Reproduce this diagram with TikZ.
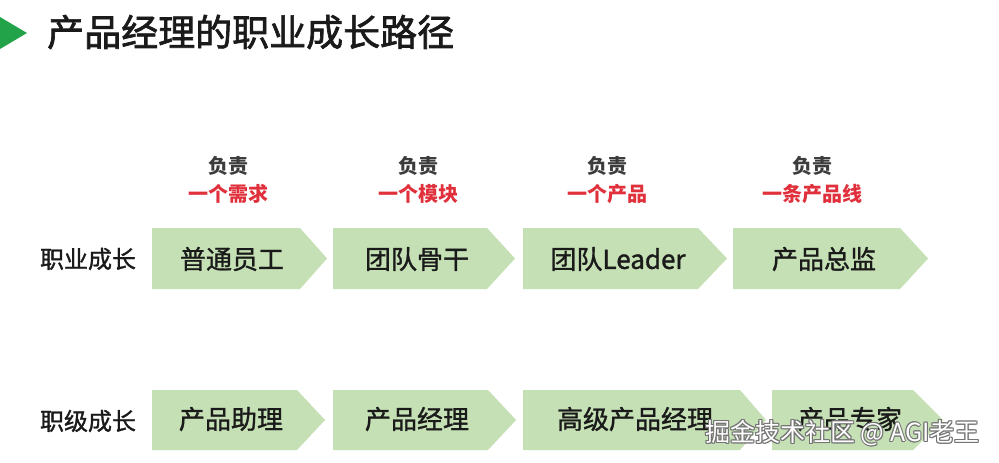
\documentclass[tikz,border=0pt]{standalone}
\usepackage{fontspec}
\newfontfamily\cjk{Noto Sans CJK SC}
\newfontfamily\cjkm[FakeBold=1.2]{Noto Sans CJK SC}
\newfontfamily\cjkt[FakeBold=1.8]{Noto Sans CJK SC}
\definecolor{boxgreen}{HTML}{C5E0B4}
\definecolor{titlegreen}{HTML}{22A34A}
\definecolor{labred}{HTML}{E0303C}
\definecolor{ink}{HTML}{1A1A1A}
\tikzset{
  chev/.style={fill=boxgreen, draw=none},
  boxtext/.style={font=\cjkm\fontsize{26}{30}\selectfont, text=ink, inner sep=0pt, anchor=center},
  rowlab/.style={font=\cjkm\fontsize{24}{28}\selectfont, text=ink, inner sep=0pt, anchor=center},
  duty/.style={font=\cjk\bfseries\fontsize{20}{24}\selectfont, text=ink!85, inner sep=0pt, anchor=center},
  dutyred/.style={font=\cjk\bfseries\fontsize{20}{24}\selectfont, text=labred, inner sep=0pt, anchor=center},
  wmk/.style={font=\cjk\fontsize{25}{28}\selectfont, inner sep=0pt, anchor=west}
}
\newcommand{\chevron}[5]{% L, S, T, top, bottom
  \fill[chev] (#1,#4) -- (#2,#4) -- (#3,{(#4+#5)/2}) -- (#2,#5) -- (#1,#5) -- cycle;}
\begin{document}
\begin{tikzpicture}[x=1pt,y=-1pt]
\useasboundingbox (0,0) rectangle (999,463);
\fill[white] (0,0) rectangle (999,463);
% title
\fill[titlegreen] (0,17) -- (27,33) -- (0,49) -- cycle;
\node[font=\cjkt\fontsize{37}{42}\selectfont, text=ink, inner sep=0pt, anchor=west] (title) at (47,32) {产品经理的职业成长路径};
% row labels
\node[rowlab] (rl1) at (88,259) {职业成长};
\node[rowlab] (rl2) at (88,421) {职级成长};
% top row chevrons
\chevron{152}{300}{327}{228}{289}
\chevron{333}{487}{515}{228}{289}
\chevron{523}{698}{727}{228}{289}
\chevron{733}{900}{928}{228}{289}
% bottom row chevrons
\chevron{152}{297}{325}{390}{450}
\chevron{333}{488}{516}{390}{450}
\chevron{523}{740}{766}{390}{450}
\chevron{772}{913}{943}{390}{450}
% top texts
\node[boxtext] (a1) at (232,259) {普通员工};
\node[boxtext] (a2) at (417,259) {团队骨干};
\node[boxtext] (a3) at (618,259) {团队Leader};
\node[boxtext] (a4) at (824,259) {产品总监};
% bottom texts
\node[boxtext] (b1) at (231,419) {产品助理};
\node[boxtext] (b2) at (417,419) {产品经理};
\node[boxtext] (b3) at (635,419) {高级产品经理};
\node[boxtext] (b4) at (850,419) {产品专家};
% duties
\node[duty] (d1) at (228,166) {负责};
\node[dutyred] (r1) at (228,194) {一个需求};
\node[duty] (d2) at (418,166) {负责};
\node[dutyred] (r2) at (418,194) {一个模块};
\node[duty] (d3) at (607,166) {负责};
\node[dutyred] (r3) at (607,194) {一个产品};
\node[duty] (d4) at (812,166) {负责};
\node[dutyred] (r4) at (812,194) {一条产品线};
% watermark (outlined)
\foreach \dx/\dy in {-1/0,1/0,0/-1,0/1,-0.8/-0.8,0.8/0.8,-0.8/0.8,0.8/-0.8}{
  \node[wmk, text=black!55] at (705+\dx,433+\dy) {掘金技术社区 @ AGI老王};
}
\node[wmk, text=white] (wm) at (705,433) {掘金技术社区 @ AGI老王};
\end{tikzpicture}
\end{document}
